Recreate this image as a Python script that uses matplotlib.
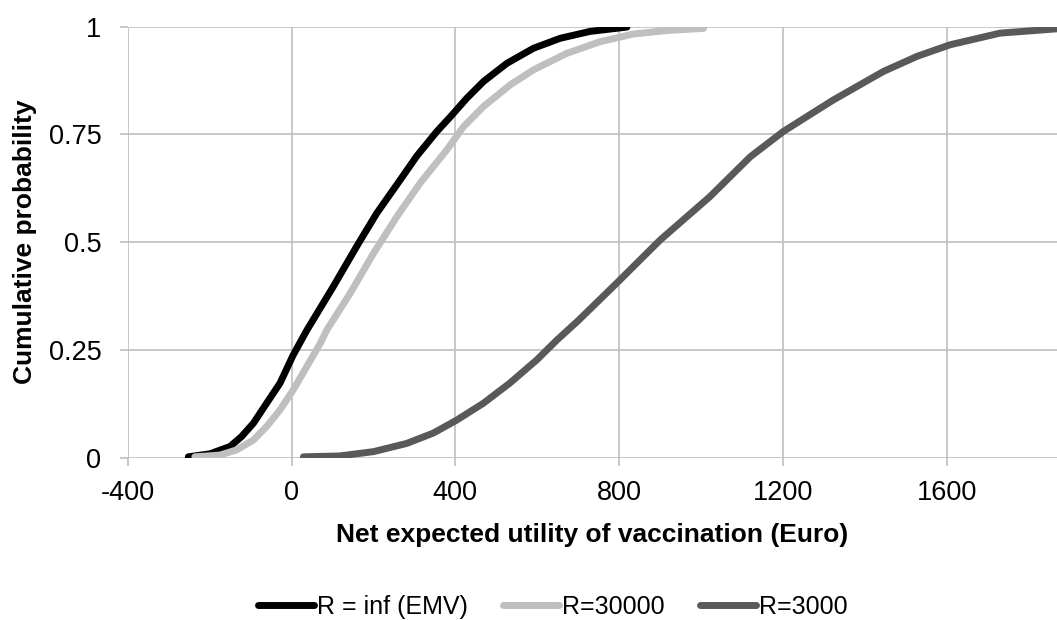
import matplotlib.pyplot as plt

plt.rcParams['font.family'] = ['Liberation Sans', 'DejaVu Sans']
plt.rcParams['axes.unicode_minus'] = False

# R = inf (EMV)
x_inf = [-252, -199, -150, -122, -93, -61, -28, 4, 37, 102, 159, 208, 265,
         306, 355, 388, 428, 469, 526, 591, 656, 729, 819]
y_inf = [0.002, 0.009, 0.026, 0.049, 0.080, 0.126, 0.173, 0.238, 0.295,
         0.397, 0.49, 0.567, 0.644, 0.700, 0.757, 0.791, 0.834, 0.873,
         0.915, 0.950, 0.973, 0.989, 0.999]

# R=30000
x_30k = [-236, -175, -134, -93, -61, -28, 4, 37, 70, 86, 143, 200, 257, 314,
         379, 420, 469, 534, 591, 672, 753, 835, 916, 1006]
y_30k = [0.002, 0.006, 0.018, 0.041, 0.072, 0.111, 0.157, 0.211, 0.265,
         0.296, 0.381, 0.474, 0.559, 0.637, 0.714, 0.768, 0.815, 0.865,
         0.900, 0.938, 0.965, 0.983, 0.991, 0.996]

# R=3000
x_3k = [29, 117, 200, 281, 346, 403, 468, 533, 599, 648, 700, 794, 900,
        1022, 1120, 1201, 1323, 1445, 1527, 1608, 1730, 1869]
y_3k = [0.002, 0.004, 0.014, 0.033, 0.057, 0.087, 0.126, 0.173, 0.227,
        0.273, 0.318, 0.405, 0.505, 0.606, 0.698, 0.757, 0.830, 0.896,
        0.931, 0.958, 0.985, 0.995]

x_ticks = [-400, 0, 400, 800, 1200, 1600]
y_ticks = [0, 0.25, 0.5, 0.75, 1]
y_tick_labels = ['0', '0.25', '0.5', '0.75', '1']

fig = plt.figure(figsize=(10.57, 6.2), dpi=100)
ax = fig.add_axes([0.1208, 0.2618, 0.8792, 0.6952])

line_kw = dict(lw=5, solid_capstyle='round', solid_joinstyle='round', zorder=3)
ax.plot(x_inf, y_inf, color='#000000', label='R = inf (EMV)', **line_kw)
ax.plot(x_30k, y_30k, color='#BFBFBF', label='R=30000', **line_kw)
ax.plot(x_3k, y_3k, color='#595959', label='R=3000', **line_kw)

ax.set_xlim(-400, 1869)
ax.set_ylim(0, 1)
ax.set_xticks(x_ticks)
ax.set_yticks(y_ticks)
ax.set_yticklabels(y_tick_labels)
ax.grid(True, color='#BFBFBF', lw=1.2)
ax.set_axisbelow(True)
for s in ax.spines.values():
    s.set_visible(False)
ax.tick_params(axis='both', length=6, width=1.2, color='#BFBFBF', labelsize=19.5)
ax.tick_params(axis='x', pad=10)
ax.tick_params(axis='y', pad=13)

ax.set_xlabel('Net expected utility of vaccination (Euro)', fontsize=19, fontweight='bold', labelpad=12)
ax.set_ylabel('Cumulative probability', fontsize=19, fontweight='bold', labelpad=8)

fig.legend(loc='center', bbox_to_anchor=(0.523, 0.021), ncol=3, frameon=False,
           fontsize=18, handlelength=2.25, handletextpad=0.12, columnspacing=1.4)

fig.savefig('out.png', dpi=100)
